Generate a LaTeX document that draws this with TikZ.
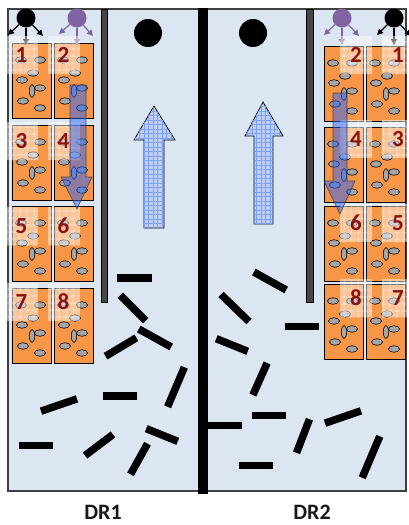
\documentclass[tikz,border=0pt]{standalone}
\usepackage{fontspec}
\setsansfont{Carlito}
\usetikzlibrary{patterns.meta,arrows.meta}

\definecolor{panelblue}{RGB}{220,230,242}
\definecolor{cellorange}{RGB}{247,150,70}
\definecolor{pillgray}{RGB}{166,166,166}
\definecolor{numred}{RGB}{140,18,18}
\definecolor{srcpurple}{RGB}{128,100,162}
\definecolor{upblue}{RGB}{188,206,246}
\definecolor{gridblue}{RGB}{128,162,238}
\definecolor{downblue}{RGB}{40,100,250}
\definecolor{wallgray}{RGB}{70,70,70}

\begin{document}
\begin{tikzpicture}
    [
        x=1pt, y=-1pt,
        cellbox/.style={draw=black, line width=0.8pt, fill=cellorange},
        pill/.style={draw=black, line width=0.6pt, fill=pillgray},
        cell/.pic={
            \draw[cellbox] (0,0) rectangle (39,75);
            \foreach \px/\py in {9/17, 28/17, 21/30, 10/37, 28/45, 11/58, 28/65}
                \draw[pill] (\px,\py) ellipse [x radius=5.5pt, y radius=3.3pt];
            \draw[pill] (20,48) ellipse [x radius=2.7pt, y radius=6.5pt];
        },
        tag/.style={minimum width=32pt, minimum height=38pt, inner sep=0pt,
            fill=white, fill opacity=0.45, text opacity=1, text=numred,
            font=\sffamily\bfseries\fontsize{23}{23}\selectfont,
            postaction={pattern={Hatch[angle=0, distance=6.5pt, line width=0.7pt]},
                pattern color=white, fill opacity=0.6}},
        wall/.style={draw=black, line width=0.6pt, fill=wallgray},
        emitter/.style={circle, inner sep=0pt, minimum size=19pt},
        ray/.style={line width=1.2pt, -{Triangle[length=6pt, width=6pt]}},
        lift/.style={fill=upblue, draw=black, line width=0.8pt,
            postaction={pattern={Hatch[angle=0, distance=4.5pt, line width=0.4pt]},
                pattern color=gridblue}},
        drift/.style={fill=downblue, fill opacity=0.5, draw=black!80, draw opacity=0.8,
            line width=0.6pt},
        rod/.style={fill=black, inner sep=0pt, minimum height=7.5pt, minimum width=#1},
        caption/.style={font=\sffamily\bfseries\fontsize{22}{24}\selectfont, text=black!90}
    ]

    \useasboundingbox (0,0) rectangle (408,525);

    % chamber, separator and inner walls
    \draw[fill=panelblue, draw=black!75, line width=1.2pt] (8,9) rectangle (406,491);
    \fill[black] (198,8) rectangle (208,494);
    \draw[wall] (101,9) rectangle (107,302);
    \draw[wall] (306,9) rectangle (313,302);

    \node[circle, fill=black, minimum size=28pt] (hole1) at (148,33) {};
    \node[circle, fill=black, minimum size=28pt] (hole2) at (253,33) {};

    % cells, DR1
    \pic at (12,43) {cell};
    \pic at (54,43) {cell};
    \pic at (12,125) {cell};
    \pic at (54,125) {cell};
    \pic at (12,206) {cell};
    \pic at (54,206) {cell};
    \pic at (12,288) {cell};
    \pic at (54,288) {cell};

    % cells, DR2
    \pic at (324,46) {cell};
    \pic at (366,46) {cell};
    \pic at (324,127) {cell};
    \pic at (366,127) {cell};
    \pic at (324,206) {cell};
    \pic at (366,206) {cell};
    \pic at (324,284) {cell};
    \pic at (366,284) {cell};

    % sources and their rays
    \node [emitter, fill=black] (s1) at (26,18) {};
    \node [emitter, fill=srcpurple] (s2) at (77,18) {};
    \node [emitter, fill=srcpurple] (s3) at (342,18) {};
    \node [emitter, fill=black] (s4) at (394,18) {};

    \coordinate (s1a) at (8,35);
    \coordinate (s1b) at (26,45);
    \coordinate (s1c) at (43,36);
    \coordinate (s2a) at (59,34);
    \coordinate (s2b) at (77,45);
    \coordinate (s2c) at (93,36);
    \coordinate (s3a) at (324,35);
    \coordinate (s3b) at (342,45);
    \coordinate (s3c) at (359,36);
    \coordinate (s4a) at (377,35);
    \coordinate (s4b) at (394,45);
    \coordinate (s4c) at (411,36);

    \draw[ray] (s1) -- (s1a);
    \draw[ray] (s1) -- (s1b);
    \draw[ray] (s1) -- (s1c);
    \draw[ray, srcpurple] (s2) -- (s2a);
    \draw[ray, srcpurple] (s2) -- (s2b);
    \draw[ray, srcpurple] (s2) -- (s2c);
    \draw[ray, srcpurple] (s3) -- (s3a);
    \draw[ray, srcpurple] (s3) -- (s3b);
    \draw[ray, srcpurple] (s3) -- (s3c);
    \draw[ray] (s4) -- (s4a);
    \draw[ray] (s4) -- (s4b);
    \draw[ray] (s4) -- (s4c);

    % cell numbers
    \node [tag] (n1) at (21.5,55) {1};
    \node [tag] (n2) at (63.5,55) {2};
    \node [tag] (n3) at (21.5,141) {3};
    \node [tag] (n4) at (63.5,141) {4};
    \node [tag] (n5) at (21.5,226) {5};
    \node [tag] (n6) at (63.5,226) {6};
    \node [tag] (n7) at (21.5,302) {7};
    \node [tag] (n8) at (63.5,302) {8};

    \node [tag] (m2) at (356,55) {2};
    \node [tag] (m1) at (398,55) {1};
    \node [tag] (m4) at (356,139) {4};
    \node [tag] (m3) at (398,139) {3};
    \node [tag] (m6) at (356,223) {6};
    \node [tag] (m5) at (398,223) {5};
    \node [tag] (m8) at (356,298) {8};
    \node [tag] (m7) at (398,298) {7};

    % flow arrows
    \draw[drift] (70,85) -- (86,85) -- (86,177) -- (92,177) -- (77,209) -- (61,177) -- (70,177) -- cycle;
    \draw[drift] (333,93) -- (347,93) -- (347,181) -- (355,181) -- (340,214) -- (324,181) -- (333,181) -- cycle;
    \draw[lift] (144,228) -- (144,140) -- (134,140) -- (154,106) -- (175,140) -- (164,140) -- (164,228) -- cycle;
    \draw[lift] (254,224) -- (254,136) -- (245,136) -- (263,102) -- (283,136) -- (273,136) -- (273,224) -- cycle;

    % rods, DR1
    \node [rod=35pt] (r1) at (134.5,278) {};
    \node [rod=36pt, rotate=-45] (r2) at (133,308) {};
    \node [rod=37pt, rotate=-29] (r3) at (155,338) {};
    \node [rod=36pt, rotate=31] (r4) at (121,347) {};
    \node [rod=43pt, rotate=67] (r5) at (176,387) {};
    \node [rod=34pt] (r6) at (120,396) {};
    \node [rod=34pt, rotate=-22] (r7) at (162,435) {};
    \node [rod=35pt, rotate=61] (r8) at (139,459) {};
    \node [rod=38pt, rotate=19] (r9) at (59,405) {};
    \node [rod=34pt] (r10) at (36,445.5) {};
    \node [rod=35pt, rotate=37] (r11) at (99,445) {};

    % rods, DR2
    \node [rod=37pt, rotate=-29] (r12) at (270,281) {};
    \node [rod=39pt, rotate=-44] (r13) at (235,308) {};
    \node [rod=34pt, rotate=-22] (r14) at (232,345) {};
    \node [rod=35pt, rotate=66] (r15) at (260,379) {};
    \node [rod=34pt] (r16) at (302,326.5) {};
    \node [rod=34pt] (r17) at (269,415.5) {};
    \node [rod=34pt] (r18) at (225,425.5) {};
    \node [rod=36pt, rotate=69] (r19) at (303,436) {};
    \node [rod=38pt, rotate=19] (r20) at (343,417) {};
    \node [rod=34pt] (r21) at (256,465.5) {};
    \node [rod=45pt, rotate=67] (r22) at (371,457) {};

    \node [caption] (dr1) at (103,512) {DR1};
    \node [caption] (dr2) at (312,512) {DR2};
\end{tikzpicture}
\end{document}
